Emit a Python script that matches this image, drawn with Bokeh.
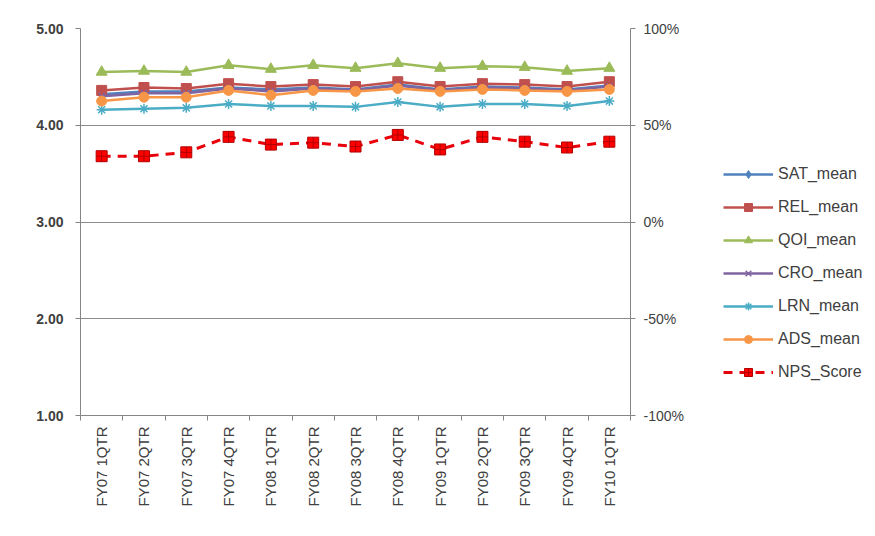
import math
from bokeh.plotting import figure
from bokeh.layouts import row
from bokeh.models import (Range1d, LinearAxis, FixedTicker, NumeralTickFormatter,
                          Legend, LegendItem)
from bokeh.embed import file_html
from bokeh.resources import INLINE

categories = ["FY07 1QTR", "FY07 2QTR", "FY07 3QTR", "FY07 4QTR", "FY08 1QTR",
              "FY08 2QTR", "FY08 3QTR", "FY08 4QTR", "FY09 1QTR", "FY09 2QTR",
              "FY09 3QTR", "FY09 4QTR", "FY10 1QTR"]

sat_mean = [4.32, 4.35, 4.35, 4.39, 4.37, 4.39, 4.37, 4.42, 4.37, 4.40, 4.39, 4.37, 4.41]
rel_mean = [4.36, 4.39, 4.38, 4.43, 4.40, 4.42, 4.40, 4.45, 4.40, 4.43, 4.42, 4.40, 4.45]
qoi_mean = [4.55, 4.56, 4.55, 4.62, 4.58, 4.62, 4.59, 4.64, 4.59, 4.61, 4.60, 4.56, 4.59]
cro_mean = [4.30, 4.33, 4.33, 4.38, 4.35, 4.38, 4.36, 4.41, 4.36, 4.39, 4.38, 4.36, 4.40]
lrn_mean = [4.16, 4.17, 4.18, 4.22, 4.20, 4.20, 4.19, 4.24, 4.19, 4.22, 4.22, 4.20, 4.25]
ads_mean = [4.25, 4.29, 4.29, 4.36, 4.31, 4.36, 4.35, 4.38, 4.35, 4.37, 4.36, 4.35, 4.37]
nps_score = [0.34, 0.34, 0.36, 0.44, 0.40, 0.41, 0.39, 0.45, 0.375, 0.44, 0.415, 0.385, 0.415]

left_ticks = [1, 2, 3, 4, 5]
right_ticks = [-1.0, -0.5, 0.0, 0.5, 1.0]

FONT = "Liberation Sans"
TXT = "#404040"
AX = "#868686"

x = [i + 0.5 for i in range(len(categories))]

p = figure(width=690, height=536, output_backend="svg", toolbar_location=None,
           x_range=Range1d(0, len(categories)), y_range=Range1d(1, 5),
           min_border_left=80, min_border_right=60, min_border_top=28,
           min_border_bottom=121, x_axis_location="below")
p.outline_line_color = None
p.background_fill_color = "white"
p.border_fill_color = "white"

p.extra_y_ranges = {"pct": Range1d(-1, 1)}

# grid
p.xgrid.visible = False
p.ygrid.ticker = FixedTicker(ticks=left_ticks)
p.ygrid.grid_line_color = "#8c8c8c"
p.ygrid.grid_line_width = 1

# left axis
ya = p.yaxis[0]
ya.ticker = FixedTicker(ticks=left_ticks)
ya.formatter = NumeralTickFormatter(format="0.00")
ya.axis_line_color = AX
ya.major_tick_line_color = AX
ya.major_tick_out = 5
ya.major_tick_in = 0
ya.minor_tick_line_color = None
ya.major_label_standoff = 12
ya.major_label_text_font = FONT
ya.major_label_text_font_size = "14px"
ya.major_label_text_font_style = "bold"
ya.major_label_text_color = TXT

# right axis
ra = LinearAxis(y_range_name="pct", ticker=FixedTicker(ticks=right_ticks),
                formatter=NumeralTickFormatter(format="0%"))
ra.axis_line_color = AX
ra.major_tick_line_color = AX
ra.major_tick_out = 5
ra.major_tick_in = 0
ra.minor_tick_line_color = None
ra.major_label_standoff = 8
ra.major_label_text_font = FONT
ra.major_label_text_font_size = "14px"
ra.major_label_text_color = TXT
p.add_layout(ra, "right")

# bottom axis
xa = p.xaxis[0]
xa.ticker = FixedTicker(ticks=x, minor_ticks=list(range(len(categories) + 1)))
xa.major_label_overrides = {xv: c for xv, c in zip(x, categories)}
xa.major_label_orientation = math.pi / 2
xa.axis_line_color = AX
xa.major_tick_line_color = None
xa.major_tick_out = 6
xa.major_tick_in = 0
xa.minor_tick_line_color = AX
xa.minor_tick_out = 5
xa.minor_tick_in = 0
xa.major_label_standoff = 5
xa.major_label_text_font = FONT
xa.major_label_text_font_size = "15px"
xa.major_label_text_color = TXT

series = [
    ("SAT_mean", sat_mean, "#4F81BD", "diamond", 11),
    ("REL_mean", rel_mean, "#C0504D", "square", 10),
    ("QOI_mean", qoi_mean, "#9BBB59", "triangle", 11),
    ("CRO_mean", cro_mean, "#8064A2", "x", 9),
    ("LRN_mean", lrn_mean, "#4BACC6", "asterisk", 10),
    ("ADS_mean", ads_mean, "#F79646", "circle", 10),
]

# legend lives in a narrow companion figure to the right of the chart
q = figure(width=185, height=536, output_backend="svg", toolbar_location=None,
           x_range=Range1d(100, 101), y_range=Range1d(100, 101),
           x_axis_location=None, y_axis_location=None, min_border=0)
q.outline_line_color = None
q.grid.visible = False
q.border_fill_color = "white"
q.background_fill_color = "white"

items = []
for name, vals, col, mk, sz in series:
    lw = 1.5 if mk in ("x", "asterisk") else 1
    p.line(x, vals, line_color=col, line_width=2.5)
    p.scatter(x, vals, marker=mk, size=sz, fill_color=col, line_color=col, line_width=lw)
    l = q.line(x, vals, line_color=col, line_width=2.5)
    s = q.scatter(x, vals, marker=mk, size=sz, fill_color=col, line_color=col, line_width=lw)
    items.append(LegendItem(label=name, renderers=[l, s]))

p.line(x, nps_score, y_range_name="pct", line_color="#E8000B", line_width=3,
       line_dash="9 7")
p.scatter(x, nps_score, y_range_name="pct", marker="square_cross", size=11,
          fill_color="#FF0000", line_color="#B00000", line_width=1)
nl = q.line(x, nps_score, line_color="#E8000B", line_width=3, line_dash="9 7")
ns = q.scatter(x, nps_score, marker="square_cross", size=11,
               fill_color="#FF0000", line_color="#B00000", line_width=1)
items.append(LegendItem(label="NPS_Score", renderers=[nl, ns]))

legend = Legend(items=items, location=(33, 33), orientation="vertical",
                glyph_width=50, glyph_height=20, spacing=13, padding=0,
                label_standoff=5, border_line_color=None,
                background_fill_alpha=0, margin=0)
legend.label_text_font = FONT
legend.label_text_font_size = "16px"
legend.label_text_color = TXT
q.add_layout(legend, "center")

layout = row(p, q, spacing=0)
open("out.html", "w").write(file_html(layout, INLINE))
